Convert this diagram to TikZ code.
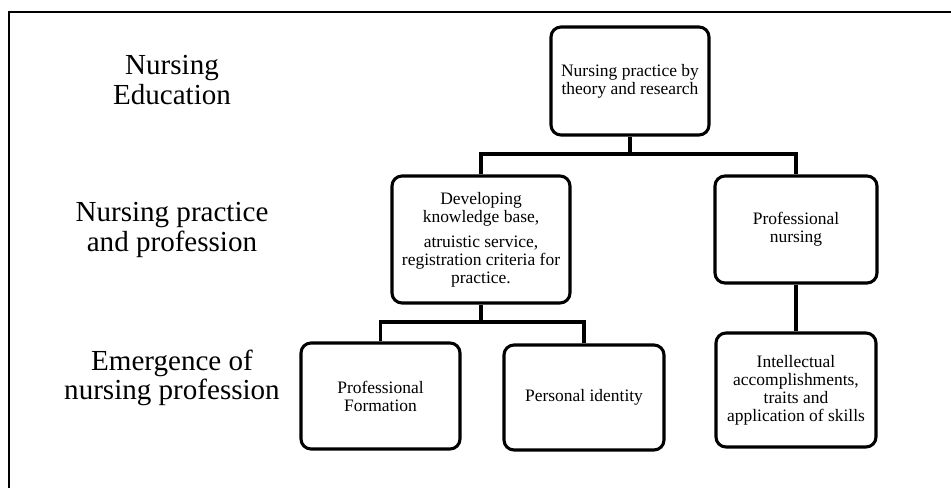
\documentclass[tikz,border=0pt]{standalone}
\usepackage{fontspec}
\setmainfont{Liberation Serif}
\begin{document}
\begin{tikzpicture}[x=0.75pt,y=-0.75pt,
  box/.style={draw=black,line width=2.3pt,rounded corners=7.5pt,inner sep=0pt,align=center,
    font=\fontsize{13.1pt}{13.5pt}\selectfont},
  lvl/.style={inner sep=0pt,align=center,font=\fontsize{21.8pt}{22pt}\selectfont},
  conn/.style={line width=2.3pt},
  frame/.style={line width=1.8pt}]
\useasboundingbox (0,0) rectangle (951,488);
\coordinate (f1) at (9,488);
\coordinate (f2) at (9,12);
\coordinate (f3) at (951,12);
\draw[frame] (f1) -- (f2) -- (f3);

\node[lvl] (l1) at (172,80) {Nursing\\Education};
\node[lvl] (l2) at (172,230) {Nursing practice\\and profession};
\node[lvl] (l3) at (172,378) {Emergence of\\nursing profession};

\node[box,minimum width=118.5pt,minimum height=81pt] (top) at (630,81) {Nursing practice by\\theory and research};
\node[box,minimum width=133.5pt,minimum height=95.25pt] (lm) at (481,239.5) {Developing\\knowledge base,\\[5pt]atruistic service,\\registration criteria for\\practice.};
\node[box,minimum width=121.5pt,minimum height=80.25pt] (rm) at (796,229.5) {Professional\\nursing};
\node[box,minimum width=119.25pt,minimum height=79.5pt] (pf) at (380.5,396) {Professional\\Formation};
\node[box,minimum width=120pt,minimum height=78.75pt] (pi) at (584,397.5) {Personal identity};
\node[box,minimum width=120pt,minimum height=85.5pt] (ia) at (796,390) {Intellectual\\accomplishments,\\traits and\\application of skills};

\coordinate (j1) at (630,154);
\coordinate (j2) at (481,322);
\draw[conn] (top.south) -- (j1);
\draw[conn] (lm.north) |- (j1) -| (rm.north);
\draw[conn] (lm.south) -- (j2);
\draw[conn] (pf.north) |- (j2) -| (pi.north);
\draw[conn] (rm.south) -- (ia.north);
\end{tikzpicture}
\end{document}
